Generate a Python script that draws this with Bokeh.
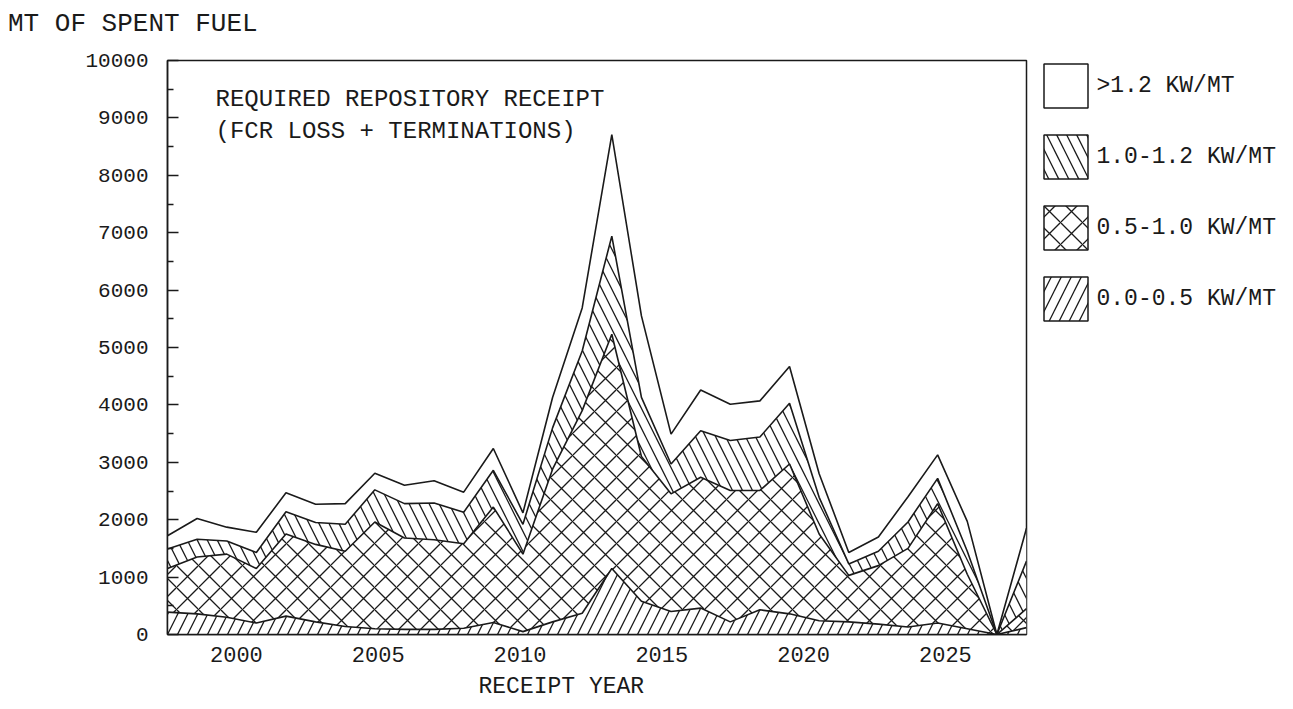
from bokeh.plotting import figure
from bokeh.layouts import column, row
from bokeh.models import (ColumnDataSource, Range1d, LinearAxis, Legend, LegendItem,
                          Label, FixedTicker, Title, Div)
from bokeh.embed import file_html
from bokeh.resources import INLINE

# ---- data (MT of spent fuel per receipt year, by decay-heat class) ----
years = list(range(1998, 2028))
kw_00_05 = [390, 360, 300, 200, 320, 220, 140, 100, 90, 90, 110, 210, 50, 220, 370,
            1150, 580, 400, 460, 220, 430, 360, 240, 220, 180, 130, 200, 100, 0, 120]
kw_05_10 = [760, 990, 1100, 950, 1430, 1350, 1310, 1860, 1590, 1560, 1470, 2010, 1350, 2660, 3530,
            4080, 2520, 2050, 2280, 2290, 2080, 2610, 1510, 810, 1020, 1370, 2080, 950, 0, 330]
kw_10_12 = [340, 310, 230, 280, 390, 380, 470, 560, 600, 640, 550, 640, 520, 720, 1040,
            1710, 1030, 520, 810, 870, 930, 1060, 640, 200, 250, 460, 440, 400, 0, 830]
kw_gt_12 = [230, 360, 240, 350, 330, 320, 360, 290, 320, 390, 350, 380, 200, 530, 750,
            1770, 1420, 520, 710, 630, 630, 640, 410, 200, 250, 440, 410, 520, 0, 570]
layer_names = ["0.0-0.5 KW/MT", "0.5-1.0 KW/MT", "1.0-1.2 KW/MT", ">1.2 KW/MT"]
year_ticks = [2000, 2005, 2010, 2015, 2020, 2025]
y_ticks = list(range(0, 10001, 1000))
y_minor = list(range(500, 10000, 1000))

FONT = "Liberation Mono"
INK = "#1a1a1a"

src = ColumnDataSource(dict(year=years, l1=kw_00_05, l2=kw_05_10, l3=kw_10_12, l4=kw_gt_12))
stackers = ["l1", "l2", "l3", "l4"]
hatches = ["/", "x", "\\", " "]
hscales = [20, 22, 20, 12]

FIG_H = 672
p = figure(width=1028, height=FIG_H, output_backend="svg", toolbar_location=None,
           x_range=Range1d(years[0], years[-1]), y_range=Range1d(0, 10000),
           min_border_left=167, min_border_right=2, min_border_top=23, min_border_bottom=75)
p.xgrid.grid_line_color = None
p.ygrid.grid_line_color = None
p.outline_line_color = INK
p.outline_line_width = 1.5
p.background_fill_color = "white"
p.border_fill_color = "white"

p.varea_stack(stackers, x="year", source=src, fill_color="white",
              hatch_pattern=hatches, hatch_scale=hscales, hatch_color=INK, hatch_weight=1.3)
p.vline_stack(stackers, x="year", source=src, line_color=INK, line_width=1.6)

# y axis
yax = p.yaxis[0]
yax.ticker = FixedTicker(ticks=y_ticks, minor_ticks=y_minor)
yax.major_tick_in = 11
yax.major_tick_out = 0
yax.minor_tick_in = 6
yax.minor_tick_out = 0
yax.major_tick_line_color = INK
yax.minor_tick_line_color = INK
yax.major_tick_line_width = 1.3
yax.minor_tick_line_width = 1.3
yax.axis_line_color = INK
yax.axis_line_width = 1.5
yax.major_label_standoff = 19
yax.major_label_text_font = FONT
yax.major_label_text_font_size = "21px"
yax.major_label_text_color = INK

# x axis: receipt-year scale as drawn on the original plot
p.xaxis.visible = False
p.extra_x_ranges = {"yr": Range1d(1997.57, 2027.86)}
xax = LinearAxis(x_range_name="yr", ticker=FixedTicker(ticks=year_ticks, minor_ticks=[]))
xax.major_tick_line_color = None
xax.minor_tick_line_color = None
xax.axis_line_color = INK
xax.axis_line_width = 1.5
xax.major_label_standoff = 6
xax.major_label_text_font = FONT
xax.major_label_text_font_size = "22px"
xax.major_label_text_color = INK
p.add_layout(xax, "below")

p.add_layout(Title(text="RECEIPT YEAR", align="left", offset=311, standoff=14,
                   text_font=FONT, text_font_size="23px", text_font_style="normal",
                   text_color=INK), "below")

for txt, yy in [("REQUIRED REPOSITORY RECEIPT", 535), ("(FCR LOSS + TERMINATIONS)", 503)]:
    p.add_layout(Label(x=48, y=yy, x_units="screen", y_units="screen", text=txt,
                       text_font=FONT, text_font_size="24px", text_color=INK,
                       text_baseline="middle"))

# y-axis title, written horizontally above the plot
ytitle = Div(text="MT OF SPENT FUEL", width=600, height=30, margin=(7, 0, 0, 8),
             styles={"font-family": FONT, "font-size": "26px", "color": INK,
                     "line-height": "34px", "white-space": "nowrap"})

# legend panel with bordered, hatched swatches
pl = figure(width=262, height=FIG_H, output_backend="svg", toolbar_location=None,
            x_axis_type=None, y_axis_type=None, x_range=Range1d(0, 1), y_range=Range1d(0, 1),
            min_border=0)
pl.outline_line_color = None
pl.xgrid.grid_line_color = None
pl.ygrid.grid_line_color = None
pl.background_fill_color = "white"
pl.border_fill_color = "white"
nan = float("nan")
leg_src = ColumnDataSource(dict(left=[nan], right=[nan], top=[nan], bottom=[nan]))
items = []
for name, hp, hs in reversed(list(zip(layer_names, hatches, hscales))):
    r = pl.quad(left="left", right="right", top="top", bottom="bottom", source=leg_src,
                fill_color="white", hatch_pattern=hp, hatch_scale=hs, hatch_color=INK,
                hatch_weight=1.3, line_color=INK, line_width=1.5)
    items.append(LegendItem(label=name, renderers=[r]))
legend = Legend(items=items, location=(9.5, 308), glyph_width=55, glyph_height=55,
                spacing=16, padding=0, margin=0, label_standoff=4,
                label_text_font=FONT, label_text_font_size="23px", label_text_color=INK,
                border_line_color=None, background_fill_alpha=0)
pl.add_layout(legend, "center")

layout = column(ytitle, row(p, pl, spacing=0), spacing=0)
open("out.html", "w").write(file_html(layout, INLINE))
